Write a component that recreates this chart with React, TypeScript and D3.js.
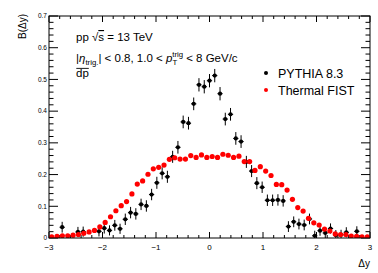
import * as d3 from 'd3';

// Thermal FIST: 60 bins of 0.1 in [-3, 3]
const fistDy = [
  -2.95, -2.85, -2.75, -2.65, -2.55, -2.45, -2.35, -2.25, -2.15, -2.05,
  -1.95, -1.85, -1.75, -1.65, -1.55, -1.45, -1.35, -1.25, -1.15, -1.05,
  -0.95, -0.85, -0.75, -0.65, -0.55, -0.45, -0.35, -0.25, -0.15, -0.05,
  0.05, 0.15, 0.25, 0.35, 0.45, 0.55, 0.65, 0.75, 0.85, 0.95,
  1.05, 1.15, 1.25, 1.35, 1.45, 1.55, 1.65, 1.75, 1.85, 1.95,
  2.05, 2.15, 2.25, 2.35, 2.45, 2.55, 2.65, 2.75, 2.85, 2.95,
];

const fistValues = [
  0.004, 0.005, 0.007, 0.007, 0.009, 0.011, 0.015, 0.019, 0.024, 0.035,
  0.049, 0.067, 0.086, 0.102, 0.115, 0.139, 0.17, 0.18, 0.201, 0.218,
  0.223, 0.23, 0.248, 0.253, 0.249, 0.249, 0.26, 0.254, 0.262, 0.254,
  0.257, 0.254, 0.264, 0.261, 0.254, 0.258, 0.241, 0.241, 0.213, 0.225,
  0.211, 0.197, 0.169, 0.168, 0.151, 0.122, 0.096, 0.085, 0.062, 0.048,
  0.041, 0.028, 0.022, 0.013, 0.011, 0.011, 0.006, 0.005, 0.004, 0.004,
];

// PYTHIA 8.3: 61 bins in [-3, 3]
const pythiaDy = [
  -2.951, -2.852, -2.754, -2.656, -2.557, -2.459, -2.361, -2.262, -2.164, -2.066,
  -1.967, -1.869, -1.77, -1.672, -1.574, -1.475, -1.377, -1.279, -1.18, -1.082,
  -0.984, -0.885, -0.787, -0.689, -0.59, -0.492, -0.393, -0.295, -0.197, -0.098,
  0.0, 0.098, 0.197, 0.295, 0.393, 0.492, 0.59, 0.689, 0.787, 0.885,
  0.984, 1.082, 1.18, 1.279, 1.377, 1.475, 1.574, 1.672, 1.77, 1.869,
  1.967, 2.066, 2.164, 2.262, 2.361, 2.459, 2.557, 2.656, 2.754, 2.852,
  2.951,
];

const pythiaValues: (number | null)[] = [
  null, -0.004, 0.034, null, null, 0.019, 0.02, null, null, 0.021,
  0.031, 0.024, 0.04, 0.029, 0.059, 0.08, 0.076, 0.106, 0.101, 0.137,
  0.174, 0.204, 0.193, 0.256, 0.286, 0.366, 0.362, 0.423, 0.483, 0.477,
  0.496, 0.512, 0.455, 0.375, 0.39, 0.314, 0.304, 0.24, 0.211, 0.173,
  0.16, 0.119, 0.119, 0.12, 0.117, 0.036, 0.051, 0.044, 0.041, 0.06,
  0.007, 0.023, 0.016, 0.03, 0.009, 0.01, 0.018, null, 0.021, null,
  null,
];

const pythiaErrors = [
  0, 0.015, 0.017, 0, 0, 0.016, 0.016, 0, 0, 0.016,
  0.017, 0.016, 0.017, 0.016, 0.018, 0.018, 0.018, 0.018, 0.018, 0.018,
  0.019, 0.019, 0.019, 0.019, 0.02, 0.02, 0.02, 0.02, 0.021, 0.021,
  0.021, 0.021, 0.021, 0.02, 0.02, 0.02, 0.02, 0.019, 0.019, 0.019,
  0.018, 0.018, 0.018, 0.018, 0.018, 0.017, 0.017, 0.017, 0.017, 0.017,
  0.016, 0.016, 0.016, 0.016, 0.016, 0.016, 0.016, 0, 0.016, 0,
  0,
];

const xMajorTicks = [-3, -2, -1, 0, 1, 2, 3];
const yMajorTicks = [0, 0.1, 0.2, 0.3, 0.4, 0.5, 0.6, 0.7];
const legendItems = [
  { label: 'PYTHIA 8.3', color: '#000000' },
  { label: 'Thermal FIST', color: '#ff0000' },
];

const W = 378;
const H = 273;
const frame = { left: 49, right: 370, top: 16, bottom: 238 };
const font = "'Liberation Sans', Arial, Helvetica, sans-serif";

export default function App() {
  const x = d3.scaleLinear().domain([-3, 3]).range([frame.left, frame.right]);
  const y = d3.scaleLinear().domain([0, 0.7]).range([frame.bottom, frame.top]);

  const xMinor = d3.range(-3, 3.0001, 0.2).filter((t) => Math.abs(t - Math.round(t)) > 1e-6);
  const yMinor = d3.range(0, 0.7001, 0.02).filter((t) => Math.abs(t * 10 - Math.round(t * 10)) > 1e-6);

  const halfBin = (x(3) - x(-3)) / 61 / 2;

  return (
    <svg
      width={W}
      height={H}
      style={{ position: 'absolute', left: 0, top: 0, background: '#fff' }}
      fontFamily={font}
    >
      <rect x={0} y={0} width={W} height={H} fill="#fff" />
      <defs>
        <clipPath id="plot">
          <rect x={frame.left} y={frame.top} width={frame.right - frame.left} height={frame.bottom - frame.top} />
        </clipPath>
      </defs>

      {/* ticks on all four sides, pointing inward */}
      <g stroke="#000" strokeWidth={1}>
        {xMajorTicks.map((t) => (
          <g key={'xm' + t}>
            <line x1={x(t)} x2={x(t)} y1={frame.bottom} y2={frame.bottom - 6} />
            <line x1={x(t)} x2={x(t)} y1={frame.top} y2={frame.top + 6} />
          </g>
        ))}
        {xMinor.map((t) => (
          <g key={'xn' + t}>
            <line x1={x(t)} x2={x(t)} y1={frame.bottom} y2={frame.bottom - 3} />
            <line x1={x(t)} x2={x(t)} y1={frame.top} y2={frame.top + 3} />
          </g>
        ))}
        {yMajorTicks.map((t) => (
          <g key={'ym' + t}>
            <line x1={frame.left} x2={frame.left + 9} y1={y(t)} y2={y(t)} />
            <line x1={frame.right} x2={frame.right - 9} y1={y(t)} y2={y(t)} />
          </g>
        ))}
        {yMinor.map((t) => (
          <g key={'yn' + t}>
            <line x1={frame.left} x2={frame.left + 4.5} y1={y(t)} y2={y(t)} />
            <line x1={frame.right} x2={frame.right - 4.5} y1={y(t)} y2={y(t)} />
          </g>
        ))}
      </g>

      {/* tick labels */}
      <g fill="#000">
        {xMajorTicks.map((t) => (
          <text key={'xl' + t} x={x(t)} y={frame.bottom + 12} fontSize={8} textAnchor="middle">
            {t < 0 ? '\u2212' + Math.abs(t) : String(t)}
          </text>
        ))}
        {yMajorTicks.map((t) => (
          <text key={'yl' + t} x={frame.left - 2} y={y(t) + 2.3} fontSize={6.5} textAnchor="end">
            {t === 0 ? '0' : t.toFixed(1)}
          </text>
        ))}
      </g>

      {/* axis titles */}
      <text x={frame.right} y={267} fontSize={10} textAnchor="end">Δy</text>
      <text transform={`translate(26,${frame.top - 2}) rotate(-90)`} fontSize={10} textAnchor="end">B(Δy)</text>

      {/* data */}
      <g clipPath="url(#plot)">
        {pythiaDy.map((d, i) => {
          const v = pythiaValues[i];
          if (v === null) return null;
          const e = pythiaErrors[i];
          return (
            <g key={'p' + i} stroke="#000" strokeWidth={1}>
              <line x1={x(d)} x2={x(d)} y1={y(v - e)} y2={y(v + e)} />
              <line x1={x(d) - halfBin} x2={x(d) + halfBin} y1={y(v)} y2={y(v)} />
              <circle cx={x(d)} cy={y(v)} r={2.1} fill="#000" stroke="none" />
            </g>
          );
        })}
        {fistDy.map((d, i) => (
          <circle key={'f' + i} cx={x(d)} cy={y(fistValues[i])} r={2.6} fill="#ff0000" />
        ))}
      </g>

      {/* frame */}
      <rect
        x={frame.left}
        y={frame.top}
        width={frame.right - frame.left}
        height={frame.bottom - frame.top}
        fill="none"
        stroke="#000"
        strokeWidth={1}
      />

      {/* text block */}
      <g fontSize={11.5} fill="#000">
        <text x={76} y={41}>
          pp √<tspan textDecoration="overline">s</tspan> = 13 TeV
        </text>
        <text x={76} y={62}>
          |<tspan fontStyle="italic">η</tspan>
          <tspan fontSize={7.8} dy={3}>trig.</tspan>
          <tspan dy={-3}>| &lt; 0.8, 1.0 &lt; </tspan>
          <tspan fontStyle="italic">p</tspan>
          <tspan fontSize={7.8} dy={-5}>trig</tspan>
          <tspan fontSize={7.8} dx={-10.8} dy={8}>T</tspan>
          <tspan dx={5.8} dy={-3}> &lt; 8 GeV/c</tspan>
        </text>
        <text x={76} y={77}>dp</text>
        <line x1={76.3} x2={88.8} y1={68.4} y2={68.4} stroke="#000" strokeWidth={0.9} />
      </g>

      {/* legend */}
      {legendItems.map((it, i) => (
        <g key={it.label}>
          <circle cx={266} cy={73 + i * 17} r={2} fill={it.color} />
          <text x={278} y={77.5 + i * 17} fontSize={12.5}>{it.label}</text>
        </g>
      ))}
    </svg>
  );
}
